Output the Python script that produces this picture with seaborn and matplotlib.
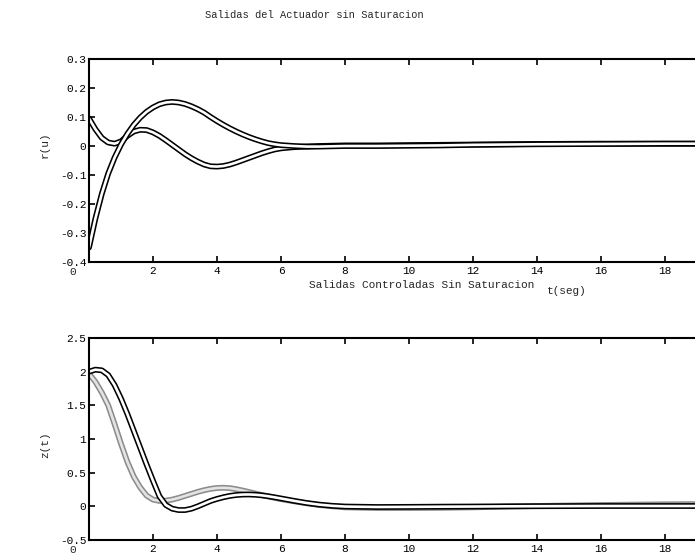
import matplotlib
matplotlib.use("Agg")
import matplotlib.patheffects as pe
import matplotlib.pyplot as plt
import pandas as pd
import seaborn as sns

sns.set_theme(style="ticks")
plt.rcParams["font.family"] = ["Liberation Mono", "DejaVu Sans Mono"]
plt.rcParams["axes.unicode_minus"] = False

# tiempo (seg)
TIME = [0.0, 0.2, 0.4, 0.6, 0.8, 1.0, 1.2, 1.4, 1.6, 1.8, 2.0, 2.2, 2.4, 2.6, 2.8,
        3.0, 3.2, 3.4, 3.6, 3.8, 4.0, 4.2, 4.4, 4.6, 4.8, 5.0, 5.2, 5.4, 5.6, 5.8,
        6.0, 6.4, 6.8, 7.2, 7.6, 8, 9, 10, 11, 12, 13, 14, 16, 18, 20, 25, 30]

# salidas del actuador r(u)
R_U1 = [0.095, 0.058, 0.028, 0.012, 0.008, 0.016, 0.035, 0.050, 0.056, 0.055, 0.047,
        0.035, 0.020, 0.004, -0.012, -0.028, -0.042, -0.054, -0.064, -0.070, -0.071,
        -0.069, -0.064, -0.057, -0.049, -0.041, -0.033, -0.025, -0.018, -0.012, -0.008,
        -0.004, -0.002, 0.000, 0.001, 0.002, 0.002, 0.003, 0.004, 0.005, 0.006, 0.007,
        0.008, 0.008, 0.008, 0.008, 0.008]
R_U2 = [-0.350, -0.250, -0.165, -0.095, -0.040, 0.005, 0.042, 0.073, 0.098, 0.118, 0.133,
        0.144, 0.150, 0.152, 0.150, 0.145, 0.137, 0.127, 0.115, 0.100, 0.086,
        0.073, 0.061, 0.050, 0.040, 0.031, 0.023, 0.016, 0.010, 0.006, 0.003,
        0.000, -0.002, -0.002, -0.001, 0.000, 0.000, 0.001, 0.002, 0.004, 0.005, 0.006,
        0.007, 0.008, 0.008, 0.008, 0.008]

# salidas controladas z(t)
Z_1 = [2.00, 2.03, 2.02, 1.95, 1.80, 1.60, 1.37, 1.12, 0.87, 0.62, 0.38,
       0.15, 0.02, -0.035, -0.055, -0.055, -0.035, 0.000, 0.040, 0.080, 0.110,
       0.135, 0.155, 0.168, 0.175, 0.176, 0.172, 0.163, 0.150, 0.134, 0.117,
       0.082, 0.050, 0.025, 0.008, -0.003, -0.010, -0.008, -0.005, -0.003, 0.000, 0.002,
       0.005, 0.005, 0.005, 0.005, 0.005]
Z_2 = [1.97, 1.85, 1.69, 1.50, 1.22, 0.93, 0.66, 0.44, 0.28, 0.16, 0.10,
       0.080, 0.085, 0.100, 0.125, 0.155, 0.185, 0.215, 0.240, 0.260, 0.272,
       0.276, 0.270, 0.255, 0.235, 0.213, 0.190, 0.168, 0.146, 0.126, 0.107,
       0.075, 0.045, 0.020, 0.000, -0.015, -0.025, -0.025, -0.022, -0.015, -0.005, 0.005,
       0.020, 0.030, 0.035, 0.040, 0.040]

X_TICKS = list(range(0, 31, 2))
X_TICK_LABELS = ["", "2", "4", "6", "8", "10", "12", "14", "16", "18",
                 "", "", "", "", "", ""]
TOP_Y_TICKS = [-0.4, -0.3, -0.2, -0.1, 0.0, 0.1, 0.2, 0.3]
TOP_Y_LABELS = ["-0.4", "-0.3", "-0.2", "-0.1", "0", "0.1", "0.2", "0.3"]
BOT_Y_TICKS = [-0.5, 0.0, 0.5, 1.0, 1.5, 2.0, 2.5]
BOT_Y_LABELS = ["-0.5", "0", "0.5", "1", "1.5", "2", "2.5"]

W, H = 695, 559


def px_axes(fig, left, top, right, bottom):
    return fig.add_axes([left / W, 1 - bottom / H, (right - left) / W, (bottom - top) / H])


def outlined(ax, x, y, core, edge):
    df = pd.DataFrame({"t": x, "v": y})
    sns.lineplot(data=df, x="t", y="v", ax=ax, color=core, lw=1.9, sort=False,
                 estimator=None,
                 path_effects=[pe.Stroke(linewidth=4.2, foreground=edge), pe.Normal()])


def style_axes(ax, yticks, ylabels, ylim):
    ax.set_xlim(0, 30)
    ax.set_ylim(*ylim)
    ax.set_xticks(X_TICKS)
    ax.set_xticklabels(X_TICK_LABELS)
    ax.set_yticks(yticks)
    ax.set_yticklabels(ylabels)
    ax.set_xlabel("")
    ax.set_ylabel("")
    for s in ax.spines.values():
        s.set_linewidth(1.5)
        s.set_color("black")
    ax.tick_params(direction="in", length=4, width=1.2, top=True, right=True,
                   labelsize=8, colors="black")
    ax.tick_params(axis="x", pad=3)
    ax.tick_params(axis="y", pad=2)
    ax.annotate("0", xy=(0, 0), xycoords="axes fraction", xytext=(-16, -10),
                textcoords="offset pixels", ha="center", va="center", fontsize=8)


fig = plt.figure(figsize=(6.95, 5.59), dpi=100)
ax_top = px_axes(fig, 89, 59, 89 + 30 * 32, 262)
ax_bot = px_axes(fig, 89, 338, 89 + 30 * 32, 540)

outlined(ax_top, TIME, R_U1, "white", "black")
outlined(ax_top, TIME, R_U2, "white", "black")
style_axes(ax_top, TOP_Y_TICKS, TOP_Y_LABELS, (-0.4, 0.3))

outlined(ax_bot, TIME, Z_2, "#e4e4e4", "#8c8c8c")
outlined(ax_bot, TIME, Z_1, "white", "black")
style_axes(ax_bot, BOT_Y_TICKS, BOT_Y_LABELS, (-0.5, 2.5))

fig.text(314 / W, 1 - 15 / H, "Salidas del Actuador sin Saturacion",
         ha="center", va="center", fontsize=7.5)
fig.text(422 / W, 1 - 285 / H, "Salidas Controladas Sin Saturacion",
         ha="center", va="center", fontsize=8)
fig.text(567 / W, 1 - 291 / H, "t(seg)", ha="center", va="center", fontsize=8)
fig.text(45 / W, 1 - 145 / H, "r(u)", ha="center", va="center", rotation=90, fontsize=8)
fig.text(45 / W, 1 - 445 / H, "z(t)", ha="center", va="center", rotation=90, fontsize=8)

fig.savefig("out.png", dpi=100)
